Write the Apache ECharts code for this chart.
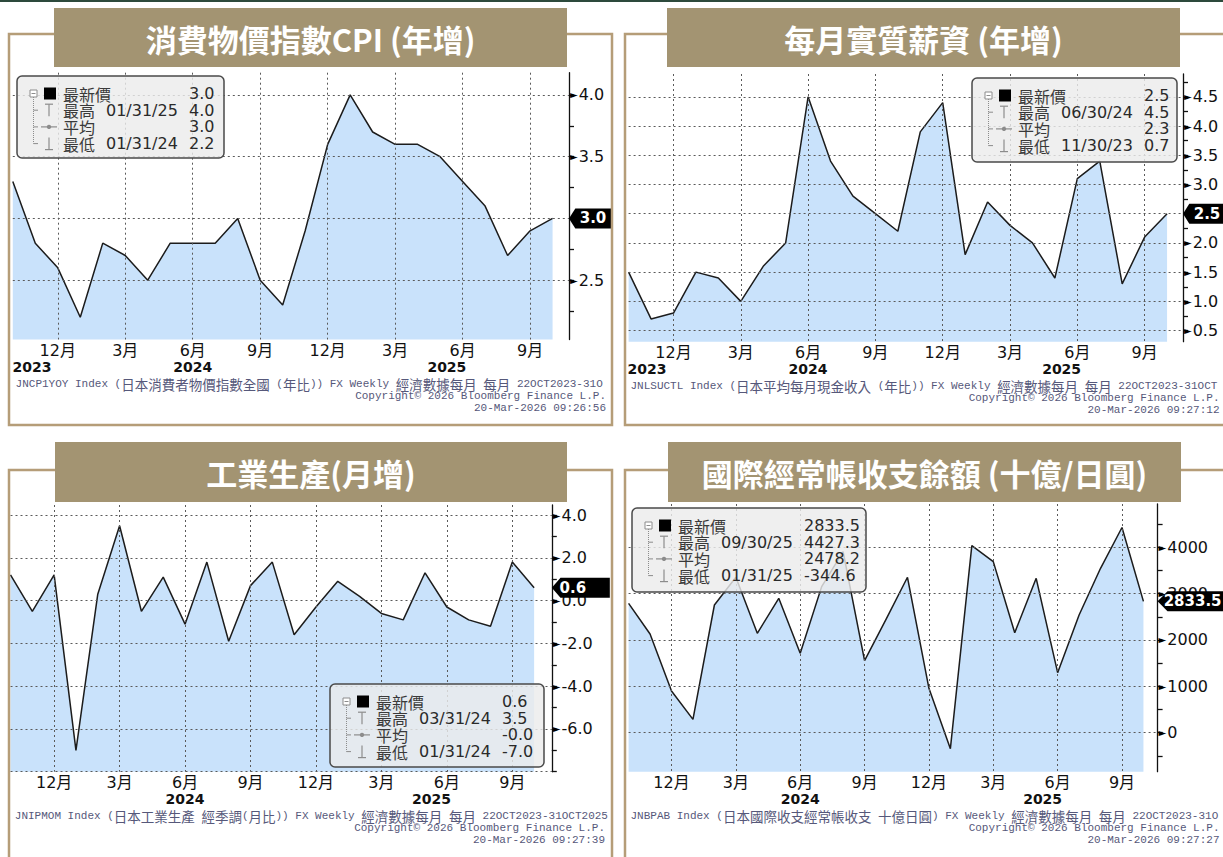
<!DOCTYPE html>
<html>
<head>
<meta charset="utf-8">
<script src="https://cdn.jsdelivr.net/npm/echarts@6.0.0/dist/echarts.min.js"></script>
<style>
html,body{margin:0;padding:0;background:#ffffff;overflow:hidden;}
#chart{width:1223px;height:857px;}
</style>
</head>
<body>
<div id="chart"></div>
<script>
// ---------------- data ----------------
const months = ['2023-10','2023-11','2023-12','2024-01','2024-02','2024-03','2024-04','2024-05','2024-06','2024-07','2024-08','2024-09','2024-10','2024-11','2024-12','2025-01','2025-02','2025-03','2025-04','2025-05','2025-06','2025-07','2025-08','2025-09','2025-10'];

const cpiYoY        = [3.3,2.8,2.6,2.2,2.8,2.7,2.5,2.8,2.8,2.8,3.0,2.5,2.3,2.9,3.6,4.0,3.7,3.6,3.6,3.5,3.3,3.1,2.7,2.9,3.0];
const realWageYoY   = [1.5,0.7,0.8,1.5,1.4,1.0,1.6,2.0,4.5,3.4,2.8,2.5,2.2,3.9,4.4,1.8,2.7,2.3,2.0,1.4,3.1,3.4,1.3,2.1,2.5];
const indProdMoM    = [1.2,-0.5,1.2,-7.0,0.3,3.5,-0.5,1.1,-1.1,1.8,-1.9,0.7,1.8,-1.6,-0.3,0.9,0.2,-0.6,-0.9,1.3,-0.3,-0.9,-1.2,1.8,0.6];
const currentAccount= [2791,2129,899,288,2755,3353,2144,2899,1712,3151,3906,1554,2446,3353,957,-344.6,4036,3691,2158,3331,1295,2540,3547,4427.3,2833.5];

const cpiTicks = [2.5,3.0,3.5,4.0];
const cpiMinorTicks = [2.25,2.75,3.25,3.75];
const wageTicks = [0.5,1.0,1.5,2.0,2.5,3.0,3.5,4.0,4.5];
const wageMinorTicks = [0.75,1.25,1.75,2.25,2.75,3.25,3.75,4.25,4.75];
const ipTicks = [-8,-6,-4,-2,0,2,4];
const ipLabelTicks = [-6,-4,-2,0,2,4];
const ipMinorTicks = [-7,-5,-3,-1,1,3];
const caTicks = [0,1000,2000,3000,4000];
const caMinorTicks = [-500,500,1500,2500,3500,4500];

const titles = ['消費物價指數CPI (年增)','每月實質薪資 (年增)','工業生產(月增)','國際經常帳收支餘額 (十億/日圓)'];
const statNames = ['最新價','最高','平均','最低'];
const cpiStats  = [['','3.0'],['01/31/25','4.0'],['','3.0'],['01/31/24','2.2']];
const wageStats = [['','2.5'],['06/30/24','4.5'],['','2.3'],['11/30/23','0.7']];
const ipStats   = [['','0.6'],['03/31/24','3.5'],['','-0.0'],['01/31/24','-7.0']];
const caStats   = [['','2833.5'],['09/30/25','4427.3'],['','2478.2'],['01/31/25','-344.6']];

const footnotes = [
  'JNCP1YOY Index (日本消費者物價指數全國 (年比)) FX Weekly 經濟數據每月 每月 22OCT2023-31OCT2025',
  'JNLSUCTL Index (日本平均每月現金收入 (年比)) FX Weekly 經濟數據每月 每月 22OCT2023-31OCT2025',
  'JNIPMOM Index (日本工業生產 經季調(月比)) FX Weekly 經濟數據每月 每月 22OCT2023-31OCT2025',
  'JNBPAB Index (日本國際收支經常帳收支 十億日圓) FX Weekly 經濟數據每月 每月 22OCT2023-31OCT2025'
];
const copyrightText = 'Copyright© 2026 Bloomberg Finance L.P.';
const stamps = ['20-Mar-2026 09:26:56','20-Mar-2026 09:27:12','20-Mar-2026 09:27:39','20-Mar-2026 09:27:27'];
const yearsFull = ['2023','2024','2025'];
const yearsShort = ['2024','2025'];

// ---------------- layout ----------------
const FONT = "'DejaVu Sans','Noto Sans CJK TC',sans-serif";
const CJK = "'Noto Sans CJK TC','Noto Sans CJK SC',sans-serif";
const MONO = "'Liberation Mono','DejaVu Sans Mono',monospace";
const FRAME = '#b59d78';
const TITLEBG = '#a39472';
const FILL = '#c9e2fb';
const FOOTC = '#56587a';

const panels = [
  {values: cpiYoY, major: cpiTicks, minor: cpiMinorTicks, labels: cpiTicks, dec: 1, years: yearsFull, stats: cpiStats,
   title: titles[0], foot: footnotes[0], stamp: stamps[0],
   grid: {left: 12.8, top: 72.7, width: 556.2, height: 266.8}, xMax: 24.73, yMin: 2.02, yMax: 4.18,
   yearAt: [0.85, 8, 19.3], tagW: 42, tagDx: 3, legend: [17, 76, 207, 82],
   titleBox: [54, 8, 513, 59], frame: [9, 34, 603, 391], footY: 384, footL: 15.6, footR: 606, footW: 594},
  {values: realWageYoY, major: wageTicks, minor: wageMinorTicks, labels: wageTicks, dec: 1, years: yearsFull, stats: wageStats,
   title: titles[1], foot: footnotes[1], stamp: stamps[1],
   grid: {left: 628.6, top: 74, width: 554.4, height: 267.7}, xMax: 24.71, yMin: 0.31, yMax: 4.89,
   yearAt: [0.82, 8, 19.3], tagW: 42, tagDx: 3, legend: [972, 78, 205, 84],
   titleBox: [667, 8, 513, 59], frame: [625, 34, 640, 391], footY: 385.5, footL: 630.5, footR: 1219.5, footW: 592},
  {values: indProdMoM, major: ipTicks, minor: ipMinorTicks, labels: ipLabelTicks, dec: 1, years: yearsShort, stats: ipStats,
   title: titles[2], foot: footnotes[2], stamp: stamps[2],
   grid: {left: 10.5, top: 505, width: 541.3, height: 266.7}, xMax: 24.81, yMin: -8, yMax: 4.47,
   yearAt: [8, 19.3], tagW: 58, tagDx: -8, legend: [330, 684, 214, 83],
   titleBox: [55, 442, 512, 60], frame: [9, 470, 603, 420], footY: 816, footL: 14.8, footR: 605, footW: 596},
  {values: currentAccount, major: caTicks, minor: caMinorTicks, labels: caTicks, dec: 0, years: yearsShort, stats: caStats,
   title: titles[3], foot: footnotes[3], stamp: stamps[3],
   grid: {left: 628.6, top: 504, width: 529, height: 267.7}, xMax: 24.66, yMin: -842, yMax: 4934,
   yearAt: [8, 19.3], tagW: 66, tagDx: 2, legend: [632, 508, 234, 84],
   titleBox: [668, 442, 513, 60], frame: [625, 470, 640, 420], footY: 816, footL: 630.5, footR: 1219.5, footW: 592}
];

// quarter ticks (Dec, Mar, Jun, Sep) derived from the month list
const quarterIdx = months.map((m, i) => [i, parseInt(m.slice(5), 10)]).filter(([i, mm]) => mm % 3 === 0).map(([i]) => i);
const monthLabel = i => parseInt(months[i].slice(5), 10) + '月';

function fmtVal(v, dec) { return dec === 0 ? String(Math.round(v)) : v.toFixed(dec); }
function tagText(v, dec) { return Number.isInteger(v) ? v.toFixed(Math.max(dec, 1)) : String(v); }

function richRuns(s) {
  const re = /[\u2E80-\u9FFF\uF900-\uFAFF\uFF00-\uFFEF]+/g;
  let out = '', last = 0, m;
  while ((m = re.exec(s))) {
    if (m.index > last) out += '{l|' + s.slice(last, m.index) + '}';
    out += '{c|' + m[0] + '}';
    last = m.index + m[0].length;
  }
  if (last < s.length) out += '{l|' + s.slice(last) + '}';
  return out;
}

const grids = [], xAxes = [], yAxes = [], series = [], graphics = [];

// top dark rule
graphics.push({type: 'rect', shape: {x: 0, y: 0, width: 1223, height: 2}, style: {fill: '#2d4a3c'}, z: 0});

panels.forEach((p, i) => {
  grids.push(Object.assign({outerBoundsMode: 'none', containLabel: false}, p.grid));
  const last = p.values[p.values.length - 1];

  // month axis (with vertical dotted gridlines)
  xAxes.push({
    type: 'value', gridIndex: i, position: 'bottom', min: 0, max: p.xMax, z: 3,
    axisLine: {show: false, onZero: false},
    axisTick: {show: false, customValues: quarterIdx},
    splitLine: {show: true, lineStyle: {color: '#5a5a5a', width: 1, type: [2, 3]}},
    axisLabel: {
      show: true, margin: 2, hideOverlap: false, customValues: quarterIdx,
      formatter: v => monthLabel(Math.round(v)),
      fontFamily: FONT, fontSize: 16, lineHeight: 17, color: '#111'
    }
  });
  // year axis (labels only)
  xAxes.push({
    type: 'value', gridIndex: i, position: 'bottom', min: 0, max: p.xMax, z: 3,
    axisLine: {show: false, onZero: false},
    axisTick: {show: false, customValues: p.yearAt},
    splitLine: {show: false},
    axisLabel: {
      show: true, margin: 19, hideOverlap: false, customValues: p.yearAt,
      formatter: v => { const k = p.yearAt.findIndex(a => Math.abs(a - v) < 1e-6); return k >= 0 ? p.years[k] : ''; },
      fontFamily: FONT, fontSize: 14, fontWeight: 'bold', lineHeight: 17, color: '#111'
    }
  });

  // visible right axis with ticks and labels (label fully hidden under the value tag is skipped)
  const shownLabels = p.labels.filter(v => Math.abs(v - last) > 1e-9);
  yAxes.push({
    type: 'value', gridIndex: i, position: 'right', min: p.yMin, max: p.yMax, z: 0,
    axisLine: {show: true, onZero: false, lineStyle: {color: '#111', width: 1.3}},
    axisTick: {show: true, inside: false, length: 5, customValues: p.major.concat(p.minor), lineStyle: {color: '#111', width: 1.3}},
    axisLabel: {
      show: true, margin: 1, hideOverlap: false, customValues: shownLabels,
      fontFamily: FONT, fontSize: 16, lineHeight: 16, color: '#111',
      formatter: v => '{t|►}' + fmtVal(v, p.dec),
      rich: {t: {fontFamily: FONT, fontSize: 10, lineHeight: 16, color: '#000', padding: [0, 1, 0, 0]}}
    },
    splitLine: {show: false}
  });
  // gridline-only axis (major values)
  yAxes.push({
    type: 'value', gridIndex: i, position: 'right', min: p.yMin, max: p.yMax, z: 3,
    axisLine: {show: false, onZero: false},
    axisTick: {show: false, customValues: p.major},
    axisLabel: {show: false},
    splitLine: {show: true, lineStyle: {color: '#5a5a5a', width: 1, type: [2, 3]}}
  });

  series.push({
    type: 'line', xAxisIndex: 2 * i, yAxisIndex: 2 * i,
    data: p.values.map((v, k) => [k, v]),
    symbol: 'none', silent: true, z: 2,
    lineStyle: {color: '#1c1c1c', width: 1.5},
    areaStyle: {color: FILL, opacity: 1, origin: 'start'},
    markPoint: {
      symbol: 'path://M0,10L9,0L60,0L60,20L9,20Z',
      symbolSize: [p.tagW, 20], symbolKeepAspect: false,
      symbolOffset: [p.tagW / 2, 0],
      itemStyle: {color: '#000'},
      label: {show: true, position: 'inside', color: '#fff', fontFamily: FONT, fontSize: 15, lineHeight: 16, fontWeight: 'bold',
              offset: [p.tagDx, 0], formatter: () => tagText(last, p.dec)},
      data: [{coord: [p.xMax, last]}]
    }
  });

  // frame
  const [fx, fy, fw, fh] = p.frame;
  graphics.push({type: 'rect', z: 40, shape: {x: fx, y: fy, width: fw, height: fh}, style: {fill: 'none', stroke: FRAME, lineWidth: 2.5}});
  // title box
  const [tx, ty, tw, th] = p.titleBox;
  graphics.push({type: 'rect', z: 41, shape: {x: tx, y: ty, width: tw, height: th}, style: {fill: TITLEBG}});
  graphics.push({type: 'text', z: 42, x: tx + tw / 2, y: ty + th / 2 + 0.5,
    style: {text: p.title, fill: '#ffffff', fontFamily: CJK, fontSize: 31, fontWeight: 'bold',
            align: 'center', verticalAlign: 'middle', textAlign: 'center', textVerticalAlign: 'middle'}});

  // footnotes
  graphics.push({type: 'text', z: 42, x: p.footL, y: p.footY,
    style: {text: richRuns(p.foot), width: p.footW, overflow: 'truncate', ellipsis: '',
            rich: {l: {fontFamily: MONO, fontSize: 11, lineHeight: 11, fill: FOOTC}, c: {fontFamily: CJK, fontSize: 13.5, lineHeight: 11, fill: FOOTC}},
            align: 'left', verticalAlign: 'middle', textAlign: 'left', textVerticalAlign: 'middle'}});
  graphics.push({type: 'text', z: 42, x: p.footR, y: p.footY + 18,
    style: {text: copyrightText + '\n' + p.stamp, fill: FOOTC, fontFamily: MONO, fontSize: 11, lineHeight: 12,
            align: 'right', verticalAlign: 'middle', textAlign: 'right', textVerticalAlign: 'middle'}});

  // stats box (legend)
  const [bx, by, bw, bh] = p.legend;
  const rowY = [17.5, 34.2, 50.9, 67.6];
  const rowH = 16.7;
  const gc = '#8c8c8c';
  const Z = 60;
  const ch = [];
  ch.push({type: 'rect', z: Z, shape: {x: 0, y: 0, width: bw, height: bh, r: 5}, style: {fill: 'rgba(236,236,236,0.82)', stroke: '#4a4a4a', lineWidth: 1.5}});
  ch.push({type: 'rect', z: Z + 1, shape: {x: 13, y: rowY[0] - 3.5, width: 7, height: 7}, style: {fill: '#fff', stroke: gc, lineWidth: 1}});
  ch.push({type: 'line', z: Z + 1, shape: {x1: 14.5, y1: rowY[0], x2: 18.5, y2: rowY[0]}, style: {stroke: gc, lineWidth: 1}});
  ch.push({type: 'rect', z: Z + 1, shape: {x: 27, y: rowY[0] - 6, width: 12, height: 12}, style: {fill: '#000'}});
  ch.push({type: 'line', z: Z + 1, shape: {x1: 16.5, y1: rowY[0] + 3.5, x2: 16.5, y2: rowY[3]}, style: {stroke: gc, lineWidth: 1, lineDash: [1, 1]}});
  [1, 2, 3].forEach(r => ch.push({type: 'line', z: Z + 1, shape: {x1: 16.5, y1: rowY[r], x2: 21, y2: rowY[r]}, style: {stroke: gc, lineWidth: 1}}));
  ch.push({type: 'line', z: Z + 1, shape: {x1: 28, y1: rowY[1] - 6, x2: 36, y2: rowY[1] - 6}, style: {stroke: gc, lineWidth: 1.2}});
  ch.push({type: 'line', z: Z + 1, shape: {x1: 32, y1: rowY[1] - 6, x2: 32, y2: rowY[1] + 6}, style: {stroke: gc, lineWidth: 1.2}});
  ch.push({type: 'line', z: Z + 1, shape: {x1: 24, y1: rowY[2], x2: 40, y2: rowY[2]}, style: {stroke: gc, lineWidth: 1.2}});
  ch.push({type: 'circle', z: Z + 1, shape: {cx: 32, cy: rowY[2], r: 2.2}, style: {fill: gc}});
  ch.push({type: 'line', z: Z + 1, shape: {x1: 32, y1: rowY[3] - 6, x2: 32, y2: rowY[3] + 6}, style: {stroke: gc, lineWidth: 1.2}});
  ch.push({type: 'line', z: Z + 1, shape: {x1: 28, y1: rowY[3] + 6, x2: 36, y2: rowY[3] + 6}, style: {stroke: gc, lineWidth: 1.2}});
  const legendText = statNames.map((nm, r) =>
    '{n|' + nm + '}{d|' + (p.stats[r][0] || ' ') + '}{v|' + p.stats[r][1] + '}').join('\n');
  ch.push({type: 'text', z: Z + 2, x: 46, y: rowY[0] - rowH / 2,
    style: {text: legendText,
      rich: {
        n: {fontFamily: CJK, fontSize: 16, lineHeight: rowH, width: 43, fill: '#3a3a3a', verticalAlign: 'middle'},
        d: {fontFamily: FONT, fontSize: 16, lineHeight: rowH, width: 83, fill: '#2a2a2a', verticalAlign: 'middle'},
        v: {fontFamily: FONT, fontSize: 16, lineHeight: rowH, fill: '#2a2a2a', verticalAlign: 'middle'}
      },
      align: 'left', verticalAlign: 'top', textAlign: 'left', textVerticalAlign: 'top'}});
  graphics.push({type: 'group', x: bx, y: by, z: Z, children: ch});
});

const chart = echarts.init(document.getElementById('chart'), null, {renderer: 'svg', width: 1223, height: 857});
chart.setOption({
  animation: false,
  backgroundColor: '#ffffff',
  grid: grids,
  xAxis: xAxes,
  yAxis: yAxes,
  series: series,
  graphic: {elements: graphics}
});
</script>
</body>
</html>
